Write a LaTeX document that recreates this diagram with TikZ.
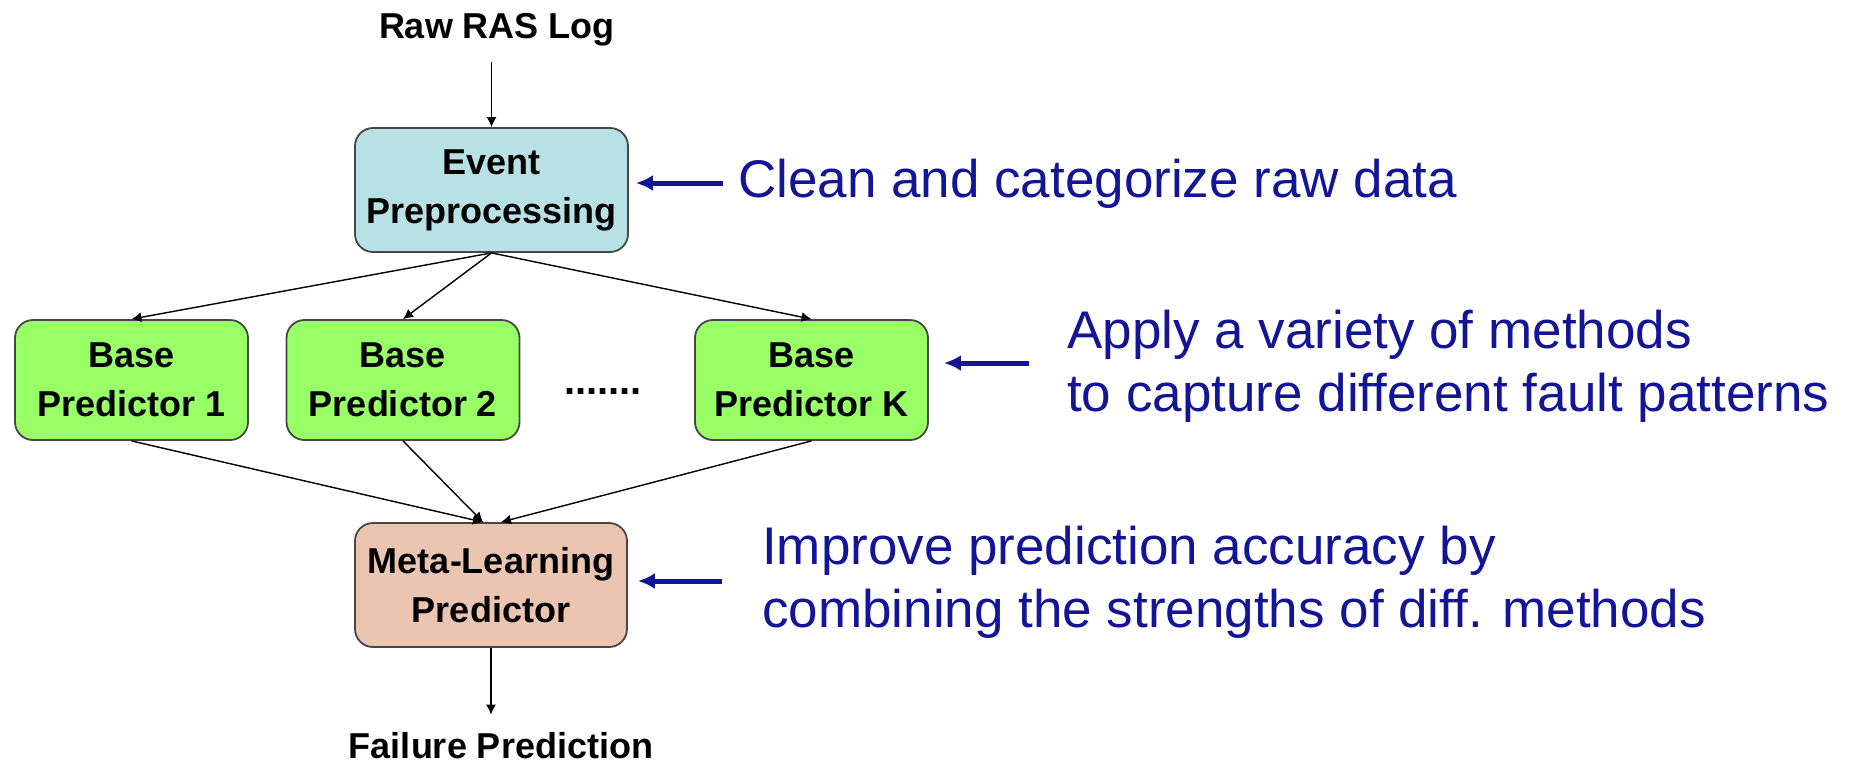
\documentclass[tikz,border=0pt]{standalone}
\usepackage{fontspec}
\setmainfont{Liberation Sans}
\usetikzlibrary{arrows.meta}
\definecolor{evfill}{RGB}{184,225,229}
\definecolor{basefill}{RGB}{153,255,102}
\definecolor{metafill}{RGB}{236,197,178}
\definecolor{noteblue}{RGB}{20,20,150}
\definecolor{boxline}{RGB}{70,70,70}
\begin{document}
\begin{tikzpicture}[x=1pt,y=-1pt,
  box/.style={draw=boxline, line width=1.8pt, rounded corners=18pt, align=center,
    font=\fontsize{36}{49}\selectfont\bfseries, inner sep=0pt},
  evbox/.style={box, fill=evfill, minimum width=273pt, minimum height=124pt},
  basebox/.style={box, fill=basefill, minimum width=233pt, minimum height=120pt},
  metabox/.style={box, fill=metafill, minimum width=272pt, minimum height=124pt},
  termtext/.style={font=\fontsize{36}{44}\selectfont\bfseries, inner sep=0pt},
  note/.style={text=noteblue, font=\fontsize{53}{63}\selectfont, align=left, inner sep=0pt, anchor=base west},
  flow/.style={-{Latex[length=10pt,width=10pt]}, line width=1.4pt},
  pointer/.style={draw=noteblue, line width=5pt, -{Latex[length=17pt,width=16pt]}}
]
\useasboundingbox (0,0) rectangle (1849,764);

\node[termtext] (raw) at (497,30) {Raw RAS Log};
\node[evbox] (ev) at (491.5,190) {Event\\Preprocessing};
\node[basebox] (b1) at (131.5,380) {Base\\Predictor 1};
\node[basebox] (b2) at (403,380) {Base\\Predictor 2};
\node[basebox] (bk) at (811.5,380) {Base\\Predictor K};
\node[termtext, anchor=base, font=\fontsize{40}{44}\selectfont\bfseries] (dots) at (603,394) {.......};
\node[metabox] (meta) at (491,585) {Meta-Learning\\Predictor};
\node[termtext] (fail) at (501,746) {Failure Prediction};

\draw[flow, shorten <=15pt] (raw.south -| ev.north) -- (ev.north);
\draw[flow] (ev.south) -- (b1.north);
\draw[flow] (ev.south) -- (b2.north);
\draw[flow] (ev.south) -- (bk.north);
\draw[flow] (b1.south) -- ([xshift=-8pt]meta.north);
\draw[flow] (b2.south) -- ([xshift=-8pt]meta.north);
\draw[flow] (bk.south) -- ([xshift=10pt]meta.north);
\draw[flow, shorten >=18pt] (meta.south) -- (meta.south |- fail.north);

\node[note] (n1) at (738,197) {Clean and categorize raw data};
\node[note] (n2) at (1067,411) {Apply a variety of methods\\to capture different fault patterns};
\node[note] (n3) at (762,627) {Improve prediction accuracy by\\combining the strengths of diff. methods};

\coordinate (p1) at (723,183);
\coordinate (p2) at (1029,363);
\coordinate (p3) at (722,581);
\draw[pointer] (p1) -- ([xshift=7pt,yshift=7pt]ev.east);
\draw[pointer] (p2) -- ([xshift=15pt,yshift=17pt]bk.east);
\draw[pointer] (p3) -- ([xshift=10pt,yshift=4pt]meta.east);
\end{tikzpicture}
\end{document}
